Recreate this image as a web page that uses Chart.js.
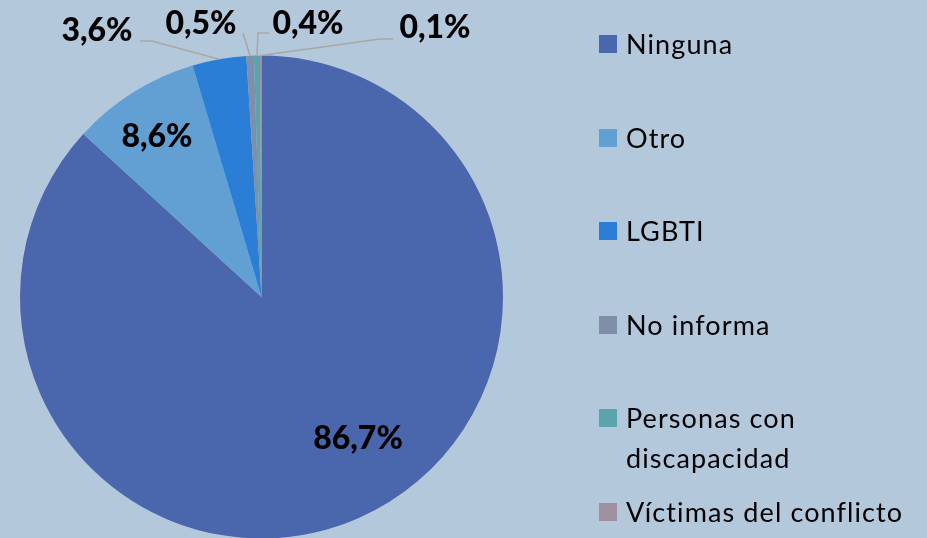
<!DOCTYPE html>
<html>
<head>
<meta charset="utf-8">
<script src="https://cdn.jsdelivr.net/npm/chart.js@4/dist/chart.umd.min.js"></script>
<style>
  html, body { margin: 0; padding: 0; width: 927px; height: 538px; overflow: hidden; background: #B4C8DC; font-family: Lato, "Open Sans", sans-serif; }
  #wrap { position: absolute; left: 0; top: 0; width: 927px; height: 540px; }
  #legend { position: absolute; left: 0; top: 0; width: 927px; height: 538px; pointer-events: none; }
  .item { position: absolute; left: 599px; display: flex; align-items: flex-start; }
  .sw { width: 18px; height: 18px; flex: none; margin-top: 0; }
  .tx { margin-left: 9px; font-size: 27px; letter-spacing: 1.1px; line-height: 40px; color: #000; width: 310px; }
</style>
</head>
<body>
<div id="wrap"><canvas id="c" width="927" height="540"></canvas></div>
<div id="legend"></div>
<script>
// ---- data ----
const categories = ["Ninguna", "Otro", "LGBTI", "No informa", "Personas con discapacidad", "Víctimas del conflicto"];
const legendLines = [["Ninguna"], ["Otro"], ["LGBTI"], ["No informa"], ["Personas con", "discapacidad"], ["Víctimas del conflicto"]];
const values = [86.7, 8.6, 3.6, 0.5, 0.4, 0.1];
const colors = ["#4A66AC", "#629FD3", "#2A7ED6", "#7F8FA9", "#5BA3AD", "#9E909E"];

// ---- layout (label text centres and leader-line anchors) ----
const labelPos = [[358, 439], [157, 137], [97, 31], [201, 24], [308, 24], [435, 28]];
const leaderPath = [null, null, [[152, 41], [140, 41]], [[243, 33]], [[258, 33], [269, 33]], [[380, 39], [393, 39]]];
const legendCenters = [44, 138, 231, 325, 418, 512];

function fmt(v) { return v.toFixed(1).replace('.', ',') + '%'; }

const labelPlugin = {
  id: 'labels',
  afterDatasetsDraw(chart) {
    const ctx = chart.ctx;
    const meta = chart.getDatasetMeta(0);
    ctx.save();
    meta.data.forEach((arc, i) => {
      const path = leaderPath[i];
      if (path) {
        const p = arc.getProps(['x', 'y', 'startAngle', 'endAngle', 'outerRadius'], true);
        const a = (p.startAngle + p.endAngle) / 2;
        const sx = p.x + Math.cos(a) * p.outerRadius;
        const sy = p.y + Math.sin(a) * p.outerRadius;
        ctx.beginPath();
        ctx.moveTo(sx, sy);
        path.forEach(pt => ctx.lineTo(pt[0], pt[1]));
        ctx.strokeStyle = '#A8A8A4';
        ctx.lineWidth = 1.5;
        ctx.stroke();
      }
    });
    ctx.fillStyle = '#000';
    ctx.font = '900 32px Lato, "Open Sans", sans-serif';
    ctx.textAlign = 'center';
    ctx.textBaseline = 'middle';
    values.forEach((v, i) => {
      ctx.fillText(fmt(v), labelPos[i][0], labelPos[i][1]);
    });
    ctx.restore();
  }
};

new Chart(document.getElementById('c'), {
  type: 'pie',
  data: {
    labels: categories,
    datasets: [{
      data: values,
      backgroundColor: colors,
      borderWidth: 0,
      hoverOffset: 0,
      offset: 0
    }]
  },
  options: {
    responsive: false,
    animation: false,
    events: [],
    layout: { padding: { top: 55, left: 20, right: 424, bottom: 1 } },
    plugins: { legend: { display: false }, tooltip: { enabled: false } }
  },
  plugins: [labelPlugin]
});

// legend
const leg = document.getElementById('legend');
legendLines.forEach((lines, i) => {
  const it = document.createElement('div');
  it.className = 'item';
  it.style.top = (legendCenters[i] - 20) + 'px';
  const sw = document.createElement('div');
  sw.className = 'sw';
  sw.style.background = colors[i];
  sw.style.marginTop = '11px';
  const tx = document.createElement('div');
  tx.className = 'tx';
  tx.innerHTML = lines.join('<br>');
  it.appendChild(sw);
  it.appendChild(tx);
  leg.appendChild(it);
});
</script>
</body>
</html>
